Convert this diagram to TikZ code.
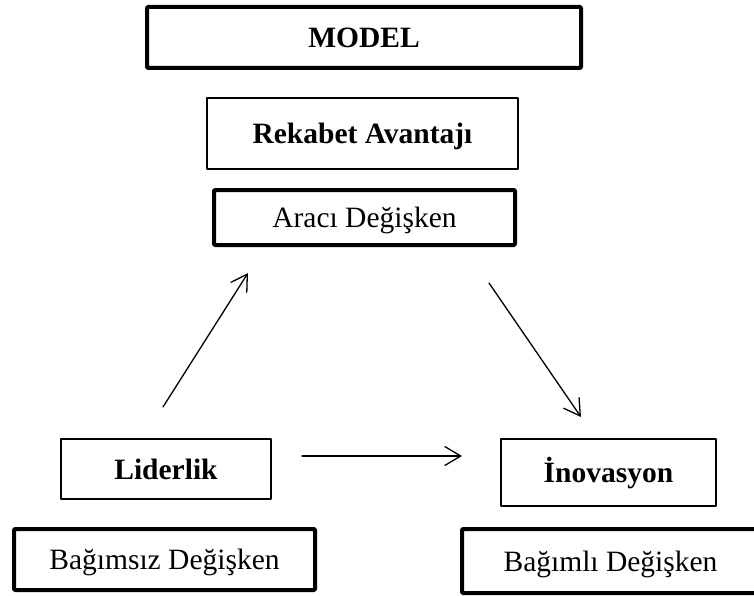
\documentclass[tikz,border=0pt]{standalone}
\usepackage{fontspec}
\setmainfont{Liberation Serif}
\usetikzlibrary{arrows.meta}

\begin{document}
\begin{tikzpicture}[x=1pt, y=-1pt, line cap=round, line join=round,
    thinbox/.style={draw, line width=1.7pt, inner sep=0pt,
      text height=20pt, text depth=0pt},
    thickbox/.style={draw, line width=4pt, rounded corners=1pt, inner sep=0pt,
      text height=20pt, text depth=0pt},
    hd/.style={font=\fontsize{29.5}{35}\selectfont\bfseries},
    sub/.style={font=\fontsize{29.5}{35}\selectfont},
    link/.style={line width=1.3pt, -{Straight Barb[length=16pt, width=19pt, line width=1.3pt]}}]

    % --- the page, in pixels of the reference
    \useasboundingbox (0, 0) rectangle (754, 596);

    % --- the title and the mediator
    \node[thickbox, hd, minimum width=434, minimum height=61] (model) at (364, 37.5) {MODEL};
    \node[thinbox, hd, minimum width=311, minimum height=71] (rekabet) at (362.5, 133.5) {Rekabet Avantajı};
    \node[thickbox, sub, minimum width=301, minimum height=55] (araci) at (364.5, 217.5) {Aracı Değişken};

    % --- the independent and the dependent variable
    \node[thinbox, hd, minimum width=210, minimum height=60] (liderlik) at (166, 469) {Liderlik};
    \node[thickbox, sub, minimum width=301, minimum height=61] (bagimsiz) at (164.5, 559.5) {Bağımsız Değişken};
    \node[thinbox, hd, minimum width=215, minimum height=67] (inovasyon) at (608.5, 472.5) {İnovasyon};
    \node[thickbox, sub, minimum width=297, minimum height=64] (bagimli) at (610.5, 561) {Bağımlı Değişken};

    % --- the free ends of the three paths
    \coordinate (up0) at (163, 407);
    \coordinate (up1) at (248, 273);
    \coordinate (down0) at (489, 283);
    \coordinate (down1) at (581, 417);
    \coordinate (across0) at (302, 456);
    \coordinate (across1) at (462, 456);

    \draw[link] (up0) -- (up1);
    \draw[link] (down0) -- (down1);
    \draw[link] (across0) -- (across1);
  \end{tikzpicture}
\end{document}
